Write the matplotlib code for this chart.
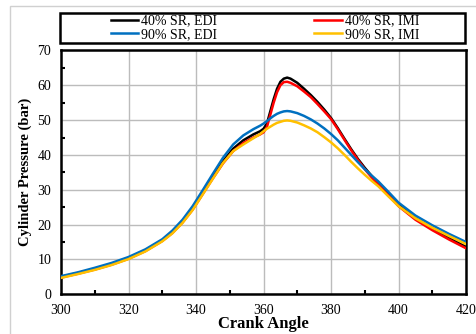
import matplotlib
matplotlib.use("Agg")
import matplotlib.pyplot as plt
from matplotlib.patches import Rectangle
from matplotlib.ticker import MultipleLocator

plt.rcParams["font.family"] = ["Liberation Serif", "DejaVu Serif"]

crank_angle = [300, 305, 310, 315, 320, 325, 330, 333, 336, 339, 342, 345, 348, 351, 354, 357, 359,
               360, 361, 362, 363, 364, 365, 366, 367, 368, 370, 372, 374, 376, 378, 380,
               382, 384, 386, 388, 390, 392, 394, 397, 400, 405, 410, 415, 420]

sr40_edi = [5.0, 6.1, 7.3, 8.7, 10.4, 12.6, 15.5, 17.9, 20.9, 24.7, 29.2, 33.8, 38.2, 41.8, 44.2, 45.9, 46.8,
            47.5, 49.0, 52.5, 56.0, 59.0, 61.0, 61.9, 62.2, 61.9, 60.7, 59.0, 57.2, 55.2, 53.0, 50.6,
            47.7, 44.6, 41.6, 38.8, 36.3, 34.0, 31.9, 28.7, 25.7, 21.8, 18.9, 16.1, 13.6]
sr40_imi = [4.8, 5.9, 7.1, 8.5, 10.2, 12.4, 15.3, 17.6, 20.6, 24.3, 28.8, 33.3, 37.6, 41.1, 43.4, 45.0, 45.9,
            46.5, 48.0, 51.5, 55.0, 58.0, 60.0, 60.9, 61.0, 60.7, 59.7, 58.2, 56.6, 54.6, 52.5, 50.3,
            47.4, 44.3, 41.3, 38.5, 35.9, 33.6, 31.5, 28.4, 25.3, 21.4, 18.4, 15.7, 13.2]
sr90_edi = [5.2, 6.3, 7.6, 9.0, 10.7, 12.9, 15.8, 18.3, 21.4, 25.3, 29.9, 34.6, 39.2, 43.0, 45.6, 47.4, 48.4,
            49.0, 49.7, 50.5, 51.2, 51.8, 52.2, 52.5, 52.6, 52.5, 52.0, 51.2, 50.2, 49.0, 47.6, 46.0,
            44.2, 42.1, 40.0, 37.9, 35.9, 34.1, 32.4, 29.4, 26.3, 22.6, 19.8, 17.3, 15.0]
sr90_imi = [4.7, 5.8, 7.0, 8.4, 10.1, 12.3, 15.2, 17.5, 20.5, 24.2, 28.7, 33.2, 37.7, 41.1, 43.0, 44.8, 46.0,
            46.8, 47.5, 48.1, 48.7, 49.2, 49.5, 49.8, 49.9, 49.8, 49.3, 48.5, 47.6, 46.5, 45.1, 43.6,
            41.9, 40.0, 38.0, 36.1, 34.3, 32.6, 31.0, 28.1, 25.3, 21.8, 19.1, 16.7, 14.4]

labels = ["40% SR, EDI", "40% SR, IMI", "90% SR, EDI", "90% SR, IMI"]
colors = ["#000000", "#ff0000", "#0070c0", "#ffc000"]

fig = plt.figure(figsize=(4.77, 3.34), dpi=100)
ax = fig.add_axes([0.128, 0.119, 0.849, 0.730])

series = [sr40_edi, sr40_imi, sr90_edi, sr90_imi]
handles = []
for values, color, label in zip(series, colors, labels):
    (line,) = ax.plot(crank_angle, values, color=color, lw=1.8, label=label, zorder=3)
    handles.append(line)

ax.set_xlim(300, 420)
ax.set_ylim(0, 70)
ax.xaxis.set_major_locator(MultipleLocator(20))
ax.xaxis.set_minor_locator(MultipleLocator(10))
ax.yaxis.set_major_locator(MultipleLocator(10))
ax.yaxis.set_minor_locator(MultipleLocator(5))
ax.tick_params(which="both", direction="in", labelsize=10, colors="black")
ax.tick_params(which="major", length=0, pad=7)
ax.tick_params(which="minor", length=3, width=1.5)
ax.set_axisbelow(True)
ax.grid(True, which="major", color="#bcbcbc", linewidth=1.0)
for spine in ax.spines.values():
    spine.set_linewidth(1.8)

ax.set_xlabel("Crank Angle", fontsize=12, fontweight="bold", labelpad=-1)
ax.set_ylabel("Cylinder Pressure (bar)", fontsize=10.5, fontweight="bold", labelpad=4)

# outer chart frame and legend box
fig.add_artist(Rectangle((10 / 477, -0.01), 1.0, 1 - 6 / 334 + 0.01, transform=fig.transFigure,
                         fill=False, edgecolor="#d0d0d0", lw=1.0))
fig.add_artist(Rectangle((60 / 477, 1 - 43 / 334), 405 / 477, 30 / 334, transform=fig.transFigure,
                         fill=False, edgecolor="black", lw=1.8))
# legend fills column-wise, so order the entries to read row-wise
order = [0, 2, 1, 3]
fig.legend([handles[i] for i in order], [labels[i] for i in order], loc="center",
           bbox_to_anchor=(265 / 477, 1 - 28 / 334), ncol=2,
           frameon=False, fontsize=10, handlelength=2.0, handletextpad=0.2,
           columnspacing=7.0, labelspacing=0.05, borderpad=0)

fig.savefig("out.png", dpi=100)
